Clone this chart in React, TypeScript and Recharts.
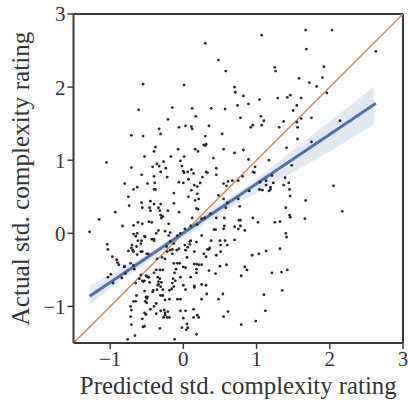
import React from "react";
import { ComposedChart, XAxis, YAxis, Area, Line, Scatter, ReferenceLine, Label } from "recharts";

const tickValuesX = [-1, 0, 1, 2, 3];
const tickValuesY = [-1, 0, 1, 2, 3];
const xLabel = "Predicted std. complexity rating";
const yLabel = "Actual std. complexity rating";

const identityLine = [{ x: -1.5, y: -1.5 }, { x: 3, y: 3 }];

const bandX = [-1.28, -1, -0.5, 0, 0.5, 1, 1.5, 2, 2.6];
const bandLow = [-0.98, -0.75, -0.40, -0.06, 0.27, 0.55, 0.84, 1.12, 1.49];
const bandHigh = [-0.71, -0.57, -0.30, 0.05, 0.40, 0.74, 1.14, 1.53, 2.0];
const fitLine = [{ x: -1.28, y: -0.86 }, { x: 2.63, y: 1.78 }];

const points: number[][] = [
[.30,2.60],[.48,2.37],[.58,2.22],[-.55,2.04],[.01,2.03],[.70,2.00],[.71,1.93],[-.61,1.69],[-.15,1.72],[.12,1.71],[.38,1.71],[.57,1.70],[.74,1.75],[.17,1.60],[-.21,1.56],[.78,1.58],[-.33,1.43],[-.06,1.45],[.03,1.47],[.11,1.46],[.12,1.43],[.35,1.47],[-.31,1.36],[-.71,1.34],[-.55,1.33],[.30,1.33],[.53,1.36],[.28,1.21],[.30,1.20],[.31,1.22],[-.38,1.18],[-.40,1.12],[-.07,1.15],[.16,1.15],[.20,1.12],[.55,1.15],[.70,1.10],[-.53,1.05],[-.17,1.05],[.01,1.05],[.41,1.03],[-.04,.99],[-1.05,.97],[-.27,.98],[-.36,.95],[-.33,.92],[-.42,.91],[-.71,.90],[-.02,.92],[-.24,.89],[.45,.89],[-.31,.84],[0,.85],[.06,.84],[.01,.83],[.11,.87],[.14,.82],[.31,.84],[.33,.83],[-.57,.80],[.45,.80],
[1.07,2.71],[1.67,2.78],[2.03,2.78],[1.68,2.52],[2.63,2.49],[1.25,2.27],[1.26,2.22],[1.92,2.28],[1.58,2.12],[1.90,2.13],[1.72,2.06],[1.82,2.01],[1.96,1.92],[.82,1.88],[1.04,1.83],[.89,1.77],[1.29,1.85],[1.42,1.86],[1.46,1.89],[1.61,1.85],[1.55,1.75],[1.50,1.68],[1.06,1.60],[1.10,1.54],[1.07,1.48],[.95,1.48],[.92,1.45],[1.31,1.45],[1.37,1.53],[1.55,1.52],[1.61,1.57],[1.75,1.58],[1.56,1.45],[2.14,1.54],[1.56,1.29],[1.75,1.25],[1.41,1.17],[.82,1.14],[.89,1.01],[1.17,1.00],[1.48,.93],[.98,.91],[.95,.84],[.97,.83],
[.81,.78],[1.21,.79],[1.39,.76],[1.05,.70],[1.13,.72],[1.13,.66],[1.23,.69],[1.37,.66],[1.44,.69],[2.05,.65],[.90,.58],[1.04,.60],[1.08,.59],[1.17,.58],[1.19,.60],[1.19,.63],[1.45,.60],[1.46,.51],[1.67,.45],[.77,.37],[1.40,.35],[2.17,.30],[1.45,.25],[1.46,.22],[1.66,.20],[.95,.21],[1.02,.15],[1.25,.15],[1.32,.16],[.78,.18],[.78,.10],[.84,.04],[1.40,0],[1.41,-.05],[1.32,-.21],[.94,-.30],[1.03,-.28],[1.13,-.24],[.84,-.46],[.87,-.50],[.79,-.58],[1.21,-.54],[1.34,-.53],[1.42,-.50],[1.35,-.78],[1.10,-.84],[1.12,-1.06],[.99,-1.20],[.79,-1.25],
[-.40,.78],[-.22,.77],[.26,.77],[-.80,.68],[-.63,.63],[-.68,.60],[-.49,.68],[-.39,.69],[-.40,.60],[-.38,.60],[-.06,.70],[0,.69],[-.13,.55],[.07,.74],[.15,.66],[.19,.64],[.23,.69],[.11,.59],[.19,.54],[.55,.68],[.59,.65],[.61,.71],[.67,.72],[.75,.72],[-.75,.50],[-.74,.38],[-.57,.42],[-.56,.35],[-.45,.44],[-.40,.40],[-.31,.40],[-.46,.35],[-.45,.31],[-.34,.35],[-.32,.31],[-.31,.25],[-.21,.31],[-.13,.41],[-.06,.29],[.07,.50],[.16,.45],[.21,.47],[.20,.33],[.18,.34],[.12,.21],[-.93,.29],[-1.15,.19],[-1.28,.02],[-.83,.10],[-.68,.11],[-.62,.15],[-.56,.13],[-.47,.16],[-.43,.15],[-.20,.13],[-.28,.23],[-.30,.21],[.25,.20],[.29,.21],[.37,.27],[.45,.21],[.48,.52],[.55,.47],[.60,.42],[.75,.47],[.58,.35],[.56,.21],[.56,.10],[.55,.06],[.76,.18],[.70,.09],[.75,.06],[.42,.05],[.44,.05],[-.34,.04],[-.37,0],[-.18,.01],[-.25,.03],[-.20,-.03],[-.08,-.03],[-.04,0],[.02,.06],[.10,.10],[.19,.12],[.25,-.03],
[-.68,-.01],[-.63,0],[-.53,-.04],[-.52,-.05],[-.65,-.04],[-.43,-.08],[-.40,-.08],[-.40,-.10],[-.23,-.18],[-.62,-.10],[-.57,-.10],[-.58,-.14],[-.70,-.16],[-.71,-.20],[-.64,-.18],[-.75,-.24],[-.69,-.23],[-.68,-.25],[-.58,-.25],[-.63,-.29],[-.56,-.25],[-.50,-.28],[-.48,-.28],[-1.04,-.15],[-1.03,-.22],[-.97,-.32],[-.91,-.36],[-.90,-.40],[-.88,-.43],[-.81,-.46],[-.80,-.45],[-.72,-.41],[-.68,-.44],[-.84,-.61],[-.79,-.55],[-1.03,-.60],[-.99,-.56],[-.96,-.68],[-.67,-.49],[-.58,-.57],[-.60,-.62],[-.56,-.65],[-.51,-.58],[-.50,-.59],[-.48,-.60],[-.47,-.60],[-.53,-.65],[-.55,-.66],[-.46,-.67],[-.65,-.68],[-.37,-.50],[-.40,-.54],[-.32,-.50],[-.28,-.50],[-.25,-.35],[-.29,-.33],[-.36,-.35],[-.22,-.25],[-.18,-.23],[-.15,-.22],[-.09,-.23],[-.06,-.21],[-.13,-.14],[-.18,-.11],[-.15,-.28],[-.13,-.41],[-.08,-.41],[-.05,-.41],[-.10,-.49],[-.12,-.54],[-.14,-.62],[0,-.46],[.03,-.47],[.05,-.33],[.03,-.23],[.06,-.19],[.10,-.10],[.09,-.11],[.02,-.16],[.18,-.12],[.15,-.25],[.09,-.15],[.28,-.28],[.33,-.22],[.35,-.22],[.36,-.20],[.31,-.32],[.38,-.10],[.50,-.10],[.51,-.16],[.51,-.25],[.57,-.10],[.60,-.16],[.70,-.09],[.45,-.30],[.50,-.45],[.59,-.43],[.15,-.42],[.18,-.42],[.21,-.43],[.18,-.49],[.25,-.43],[.35,-.51],[.44,-.55],[.18,-.54],[.10,-.60],[.25,-.70],[.31,-.71],[.15,-.72],[.15,-.74],[0,-.71],[.03,-.77],[.32,-.83],[.25,-.90],[.48,-.90],[.54,-.83],[-.04,-.60],[-.11,-.65],[-.15,-.68],[-.13,-.73],[-.16,-.76],[-.19,-.78],[-.32,-.62],[-.35,-.60],[-.34,-.66],[-.30,-.67],[-.34,-.70],[-.35,-.71],[-.31,-.73],[-.28,-.77],[-.41,-.78],[-.42,-.80],[-.36,-.77],[-.53,-.79],[-.64,-.85],[-.51,-.87],[-.49,-.87],[-.52,-.93],[-.50,-.95],[-.50,-.89],[-.31,-.85],[-.28,-.85],[-.19,-.90],[-.25,-.91],[-.37,-.96],[-.08,-.90],[-.04,-.90],[-.68,-.93],[-.65,-.93],[-.72,-1.0],[-.71,-1.05],[-.72,-1.14],[-.71,-1.25],[-.53,-1.09],[-.51,-1.11],[-.56,-1.17],[-.45,-1.04],[-.40,-1.0],[-.37,-1.10],[-.31,-1.06],[-.26,-1.05],[-.25,-1.09],[-.25,-1.12],[-.21,-1.07],[-.27,-1.15],[-.22,-1.15],[-.19,-1.15],[-.32,-1.30],[-.04,-1.06],[.03,-1.06],[0,-1.16],[.14,-1.04],[.19,-1.12],[.14,-1.15],[.21,-1.15],[.05,-1.24],[-.02,-1.29],[.04,-1.32],[.18,-1.38],[.06,-1.29],[.55,-1.14],[.61,-1.07],[-.55,-1.28],[-.53,-1.27],[-.76,-1.45],[-.66,-1.40],[-.12,-1.45],
];

const scatterData = points.map(([x, y]) => ({ x, y }));
const bandData = bandX.map((x, i) => ({ x, band: [bandLow[i], bandHigh[i]] }));

const FONT = '"Liberation Serif", serif';
const AXIS = "#3a3a3a";
const fmt = (v: number) => String(v).replace("-", "\u2212");
const Dot = (p: any) => <circle cx={p.cx} cy={p.cy} r={1.4} fill="#262626" />;
const tickStyle = { fontFamily: FONT, fontSize: 21, fill: "#333" };
const lineStyle = { stroke: AXIS, strokeWidth: 2 };

export default function App() {
  return (
    <div style={{ position: "absolute", left: 0, top: 0 }}>
      <ComposedChart width={408} height={400} data={bandData} margin={{ top: 14, right: 5, bottom: 0, left: 0 }}>
        <XAxis dataKey="x" type="number" height={57} domain={[-1.5, 3]} ticks={tickValuesX} tickFormatter={fmt} allowDataOverflow
          tick={tickStyle} axisLine={lineStyle} tickLine={{ stroke: AXIS, strokeWidth: 1.5 }} tickSize={6} tickMargin={2} interval={0}>
          <Label value={xLabel} position="insideBottom" offset={6} style={{ fontFamily: FONT, fontSize: 24.8, fill: "#333", textAnchor: "middle" }} />
        </XAxis>
        <YAxis type="number" width={73.5} domain={[-1.5, 3]} ticks={tickValuesY} tickFormatter={fmt} allowDataOverflow
          tick={tickStyle} axisLine={lineStyle} tickLine={{ stroke: AXIS, strokeWidth: 1.5 }} tickSize={6} tickMargin={2} interval={0}>
          <Label value={yLabel} angle={-90} position="insideLeft" offset={20} style={{ fontFamily: FONT, fontSize: 25.2, fill: "#333", textAnchor: "middle" }} />
        </YAxis>
        <ReferenceLine x={3} stroke={AXIS} strokeWidth={2} />
        <ReferenceLine y={3} stroke={AXIS} strokeWidth={2} />
        <Area dataKey="band" type="linear" stroke="none" fill="#4c72b0" fillOpacity={0.16} isAnimationActive={false} dot={false} activeDot={false} />
        <Line data={identityLine} dataKey="y" type="linear" stroke="#dd8452" strokeWidth={1.5} dot={false} activeDot={false} isAnimationActive={false} />
        <Line data={fitLine} dataKey="y" type="linear" stroke="#4c72b0" strokeWidth={3} dot={false} activeDot={false} isAnimationActive={false} />
        <Scatter data={scatterData} dataKey="y" shape={Dot} isAnimationActive={false} />
      </ComposedChart>
    </div>
  );
}
